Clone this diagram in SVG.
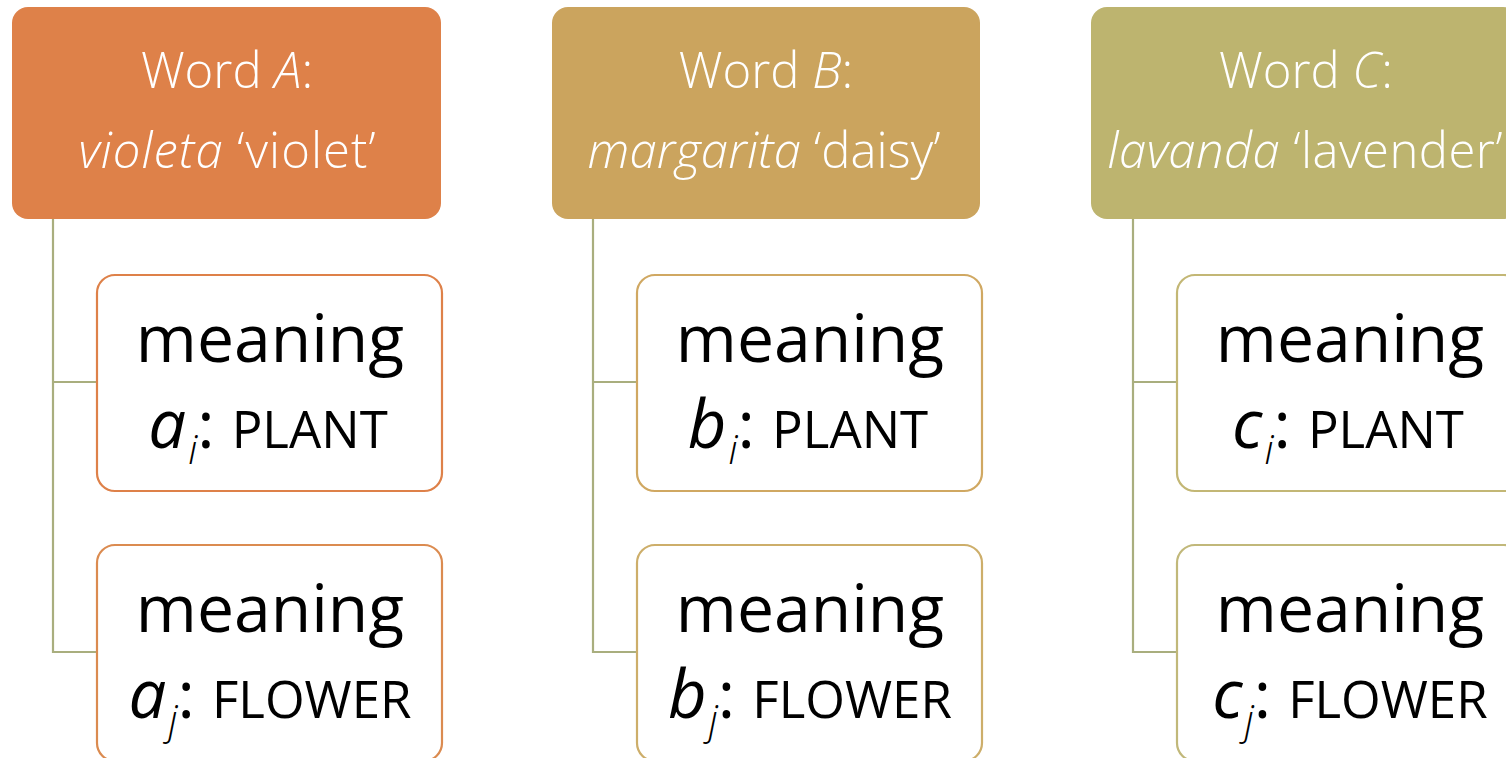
<svg xmlns="http://www.w3.org/2000/svg" width="1506" height="758" viewBox="0 0 1506 758">
<style>
.hd{font-family:"Open Sans","Liberation Sans",sans-serif;font-weight:300;font-size:49px;fill:#ffffff;text-anchor:middle}
.it{font-style:italic}
.mn{font-family:"Open Sans","Liberation Sans",sans-serif;font-size:66px;fill:#000000;text-anchor:middle}
.var{font-style:italic;font-size:67px}
.sub{font-style:italic;font-weight:300;font-size:40px}
.sc{font-size:51px}
.child{fill:#ffffff;stroke-width:2.2}
.conn{fill:none;stroke:#A9AE7E;stroke-width:2.2}
</style>
<g id="connectors">
<path class="conn" d="M53,219 V652 H97 M53,382 H97"/>
<path class="conn" d="M593,219 V652 H637 M593,382 H637"/>
<path class="conn" d="M1133,219 V652 H1177 M1133,382 H1177"/>
</g>
<g id="wordA">
<rect x="12" y="7" width="429" height="212" rx="16" fill="#DE8149"/>
<text class="hd" x="227" y="88">Word <tspan class="it">A</tspan>:</text>
<text class="hd" x="227" y="168" textLength="297" lengthAdjust="spacing"><tspan class="it">violeta</tspan> ‘violet’</text>
</g>
<g id="meaningAi">
<rect class="child" x="97" y="275" width="345" height="216" rx="18" stroke="#DE8149"/>
<text class="mn" x="270" y="362">meaning</text>
<text class="mn" x="268" y="448"><tspan class="var">a</tspan><tspan class="sub" dx="2" dy="16">i</tspan><tspan dy="-16">: </tspan><tspan class="sc">PLANT</tspan></text>
</g>
<g id="meaningAj">
<rect class="child" x="97" y="545" width="345" height="216" rx="18" stroke="#DB8B50"/>
<text class="mn" x="270" y="632">meaning</text>
<text class="mn" x="270" y="718"><tspan class="var">a</tspan><tspan class="sub" dx="2" dy="16">j</tspan><tspan dy="-16">: </tspan><tspan class="sc">FLOWER</tspan></text>
</g>
<g id="wordB">
<rect x="552" y="7" width="428" height="212" rx="16" fill="#CBA45E"/>
<text class="hd" x="766" y="88">Word <tspan class="it">B</tspan>:</text>
<text class="hd" x="764" y="168" textLength="353" lengthAdjust="spacing"><tspan class="it">margarita</tspan> ‘daisy’</text>
</g>
<g id="meaningBi">
<rect class="child" x="637" y="275" width="345" height="216" rx="18" stroke="#D0A862"/>
<text class="mn" x="810" y="362">meaning</text>
<text class="mn" x="808" y="448"><tspan class="var">b</tspan><tspan class="sub" dx="2" dy="16">i</tspan><tspan dy="-16">: </tspan><tspan class="sc">PLANT</tspan></text>
</g>
<g id="meaningBj">
<rect class="child" x="637" y="545" width="345" height="216" rx="18" stroke="#CDAE6A"/>
<text class="mn" x="810" y="632">meaning</text>
<text class="mn" x="810" y="718"><tspan class="var">b</tspan><tspan class="sub" dx="2" dy="16">j</tspan><tspan dy="-16">: </tspan><tspan class="sc">FLOWER</tspan></text>
</g>
<g id="wordC">
<rect x="1091" y="7" width="428" height="212" rx="16" fill="#BDB46F"/>
<text class="hd" x="1306" y="88">Word <tspan class="it">C</tspan>:</text>
<text class="hd" x="1305" y="168" textLength="395" lengthAdjust="spacing"><tspan class="it">lavanda</tspan> ‘lavender’</text>
</g>
<g id="meaningCi">
<rect class="child" x="1177" y="275" width="345" height="216" rx="18" stroke="#C3B775"/>
<text class="mn" x="1350" y="362">meaning</text>
<text class="mn" x="1348" y="448"><tspan class="var">c</tspan><tspan class="sub" dx="2" dy="16">i</tspan><tspan dy="-16">: </tspan><tspan class="sc">PLANT</tspan></text>
</g>
<g id="meaningCj">
<rect class="child" x="1177" y="545" width="345" height="216" rx="18" stroke="#C1B87A"/>
<text class="mn" x="1350" y="632">meaning</text>
<text class="mn" x="1350" y="718"><tspan class="var">c</tspan><tspan class="sub" dx="2" dy="16">j</tspan><tspan dy="-16">: </tspan><tspan class="sc">FLOWER</tspan></text>
</g>
</svg>
